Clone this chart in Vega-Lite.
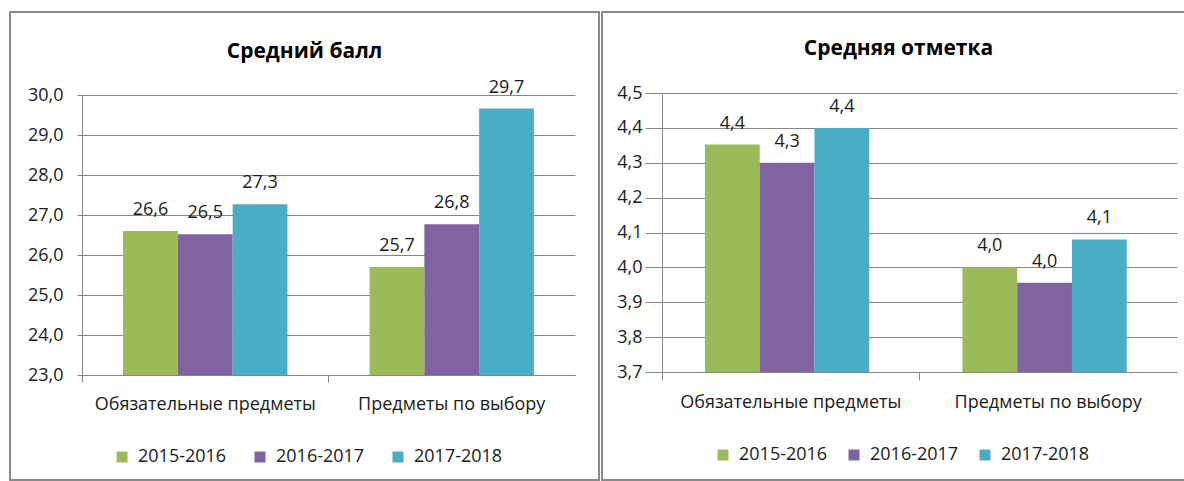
{
  "$schema": "https://vega.github.io/schema/vega-lite/v6.json",
  "padding": {"left": 9, "top": 11, "right": 0, "bottom": 0},
  "background": "white",
  "spacing": 1,
  "datasets": {
    "ball": [
      {"category": "Обязательные предметы", "year": "2015-2016", "value": 26.6},
      {"category": "Обязательные предметы", "year": "2016-2017", "value": 26.52},
      {"category": "Обязательные предметы", "year": "2017-2018", "value": 27.27},
      {"category": "Предметы по выбору", "year": "2015-2016", "value": 25.7},
      {"category": "Предметы по выбору", "year": "2016-2017", "value": 26.77},
      {"category": "Предметы по выбору", "year": "2017-2018", "value": 29.66}
    ],
    "otmetka": [
      {"category": "Обязательные предметы", "year": "2015-2016", "value": 4.352},
      {"category": "Обязательные предметы", "year": "2016-2017", "value": 4.30},
      {"category": "Обязательные предметы", "year": "2017-2018", "value": 4.40},
      {"category": "Предметы по выбору", "year": "2015-2016", "value": 4.0},
      {"category": "Предметы по выбору", "year": "2016-2017", "value": 3.956},
      {"category": "Предметы по выбору", "year": "2017-2018", "value": 4.08}
    ]
  },
  "hconcat": [
    {
      "width": 589,
      "height": 468,
      "data": {"name": "ball"},
      "title": {"text": "Средний балл", "offset": -67, "baseline": "alphabetic"},
      "encoding": {
        "x": {"field": "category", "type": "nominal", "sort": null,
          "scale": {"range": [72, 565], "paddingInner": 0.3333, "paddingOuter": 0.1667}},
        "xOffset": {"field": "year", "type": "nominal", "scale": {"paddingInner": 0, "paddingOuter": 0}},
        "y": {"field": "value", "type": "quantitative",
          "scale": {"domain": [23, 30], "range": [363, 83], "nice": false, "zero": false},
          "axis": {"title": null, "values": [23, 24, 25, 26, 27, 28, 29, 30], "format": ".1f", "offset": -72, "tickSize": 5, "labelPadding": 14, "grid": true}}
      },
      "layer": [
        {
          "mark": {"type": "bar"},
          "encoding": {
            "x": {"field": "category", "type": "nominal", "sort": null,
              "axis": {"title": null, "orient": "bottom", "offset": -105, "ticks": false, "labelPadding": 20, "labelAngle": 0, "labelLimit": 0, "grid": false}},
            "y2": {"datum": 23},
            "color": {"field": "year", "type": "nominal",
              "scale": {"domain": ["2015-2016", "2016-2017", "2017-2018"], "range": ["#9BBB59", "#8064A2", "#4BACC6"]},
              "legend": {"title": null, "orient": "none", "legendX": 103, "legendY": 436, "direction": "horizontal", "symbolType": "square", "symbolSize": 121, "symbolStrokeWidth": 0, "columnPadding": 24, "labelOffset": 7}}
          }
        },
        {
          "mark": {"type": "text", "dy": -16, "baseline": "alphabetic"},
          "encoding": {
            "x": {"field": "category", "type": "nominal", "sort": null,
              "axis": {"title": null, "orient": "bottom", "offset": -105, "labels": false, "domain": false, "ticks": true, "tickSize": 7, "bandPosition": -0.25, "grid": false}},
            "text": {"field": "value", "type": "quantitative", "format": ".1f"}
          }
        }
      ],
      "resolve": {"axis": {"x": "independent"}}
    },
    {
      "width": 583,
      "height": 468,
      "data": {"name": "otmetka"},
      "title": {"text": "Средняя отметка", "offset": -64, "baseline": "alphabetic", "dx": 5},
      "encoding": {
        "x": {"field": "category", "type": "nominal", "sort": null,
          "scale": {"range": [60, 575], "paddingInner": 0.3333, "paddingOuter": 0.1667}},
        "xOffset": {"field": "year", "type": "nominal", "scale": {"paddingInner": 0, "paddingOuter": 0}},
        "y": {"field": "value", "type": "quantitative",
          "scale": {"domain": [3.7, 4.5], "range": [360, 81], "nice": false, "zero": false},
          "axis": {"title": null, "values": [3.7, 3.8, 3.9, 4.0, 4.1, 4.2, 4.3, 4.4, 4.5], "format": ".1f", "offset": -60, "tickSize": 17, "labelPadding": 3, "grid": true}}
      },
      "layer": [
        {
          "mark": {"type": "bar"},
          "encoding": {
            "x": {"field": "category", "type": "nominal", "sort": null,
              "axis": {"title": null, "orient": "bottom", "offset": -108, "ticks": false, "labelPadding": 21, "labelAngle": 0, "labelLimit": 0, "grid": false}},
            "y2": {"datum": 3.7},
            "color": {"field": "year", "type": "nominal",
              "scale": {"domain": ["2015-2016", "2016-2017", "2017-2018"], "range": ["#9BBB59", "#8064A2", "#4BACC6"]},
              "legend": {"title": null, "orient": "none", "legendX": 112, "legendY": 434, "direction": "horizontal", "symbolType": "square", "symbolSize": 121, "symbolStrokeWidth": 0, "columnPadding": 17, "labelOffset": 7}}
          }
        },
        {
          "mark": {"type": "text", "dy": -16, "baseline": "alphabetic"},
          "encoding": {
            "x": {"field": "category", "type": "nominal", "sort": null,
              "axis": {"title": null, "orient": "bottom", "offset": -108, "labels": false, "domain": false, "ticks": true, "tickSize": 8, "bandPosition": -0.25, "grid": false}},
            "text": {"field": "value", "type": "quantitative", "format": ".1f"}
          }
        }
      ],
      "resolve": {"axis": {"x": "independent"}}
    }
  ],
  "resolve": {"scale": {"color": "independent"}, "legend": {"color": "independent"}},
  "config": {
    "locale": {"number": {"decimal": ",", "thousands": " ", "grouping": [3], "currency": ["", ""]}},
    "font": "Open Sans",
    "view": {"stroke": "#8a8a8a", "strokeWidth": 2},
    "title": {"font": "Open Sans", "fontSize": 21, "fontWeight": "bold", "color": "#000000", "anchor": "middle"},
    "axis": {
      "labelFont": "Open Sans", "labelFontSize": 18, "labelColor": "#1a1a1a",
      "domainColor": "#868686", "tickColor": "#868686", "gridColor": "#868686",
      "domainWidth": 1, "tickWidth": 1, "gridWidth": 1, "gridOpacity": 1
    },
    "legend": {"labelFont": "Open Sans", "labelFontSize": 18, "labelColor": "#1a1a1a"},
    "text": {"font": "Open Sans", "fontSize": 18, "color": "#1a1a1a"},
    "bar": {"stroke": null}
  }
}
